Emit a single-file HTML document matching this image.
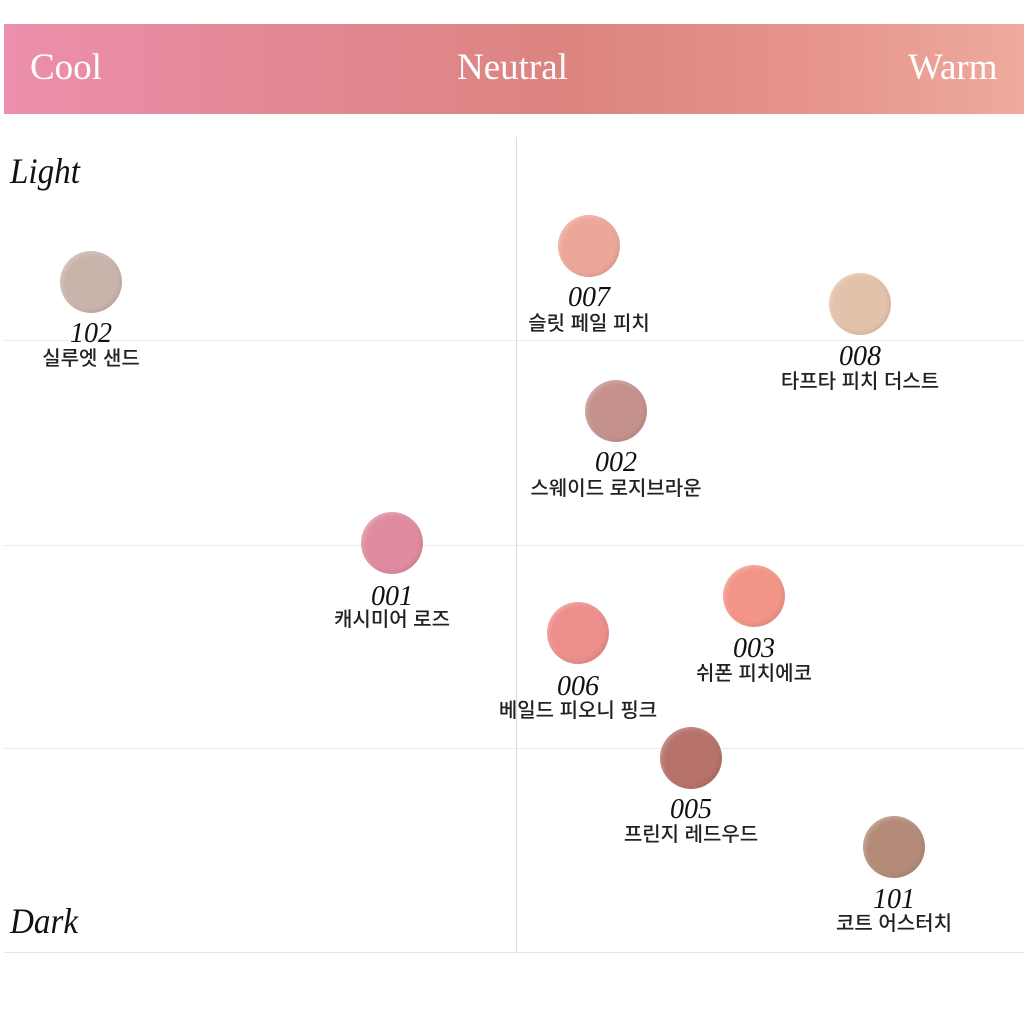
<!DOCTYPE html>
<html><head><meta charset="utf-8"><style>
body{margin:0;width:1024px;height:1024px;background:#fff;position:relative;overflow:hidden;font-family:"Liberation Serif",serif}
.band{position:absolute;left:4px;top:24px;width:1020px;height:90px;background:linear-gradient(90deg,#ec8fac 0%,#e0878e 35%,#dc8480 55%,#e6958c 80%,#eeaa9e 100%)}
.band span{position:absolute;top:24px;color:#fff;font-size:37px;line-height:40px}
.hl{position:absolute;left:4px;width:1020px;height:1px;background:#ececec}
.vl{position:absolute;left:516px;top:137px;width:1px;height:815px;background:#dcdcdc}
.ax{position:absolute;font-style:italic;font-size:36px;color:#111;left:10px;transform:scaleX(0.92);transform-origin:left}
.c{position:absolute;width:62px;height:62px;border-radius:50%;margin:-31px 0 0 -31px;box-shadow:inset 2px 2px 4px rgba(255,255,255,.25),inset -2px -2px 4px rgba(0,0,0,.08)}
.n{position:absolute;font-style:italic;font-size:28px;color:#111;width:200px;margin-left:-100px;text-align:center;line-height:1}
.k{position:absolute;font-family:"Liberation Sans","Noto Sans CJK KR",sans-serif;font-size:20px;font-weight:500;color:#222;width:260px;margin-left:-130px;text-align:center;line-height:1}
</style></head><body>
<div class="band"><span style="left:26px">Cool</span><span style="left:453px">Neutral</span><span style="left:904px">Warm</span></div>
<div class="hl" style="top:340px"></div><div class="hl" style="top:545px"></div><div class="hl" style="top:748px"></div><div class="hl" style="top:952px;background:#e4e4e4"></div>
<div class="vl"></div>
<div class="ax" style="top:150px">Light</div>
<div class="ax" style="top:900px">Dark</div>

<div class="c" style="left:91px;top:282px;background:#c9b4ac"></div><div class="n" style="left:91px;top:320px">102</div><div class="k" style="left:91px;top:349px">실루엣 샌드</div>
<div class="c" style="left:589px;top:246px;background:#eca799"></div><div class="n" style="left:589px;top:284px">007</div><div class="k" style="left:589px;top:314px">슬릿 페일 피치</div>
<div class="c" style="left:860px;top:304px;background:#e2c2aa"></div><div class="n" style="left:860px;top:343px">008</div><div class="k" style="left:860px;top:372px">타프타 피치 더스트</div>
<div class="c" style="left:616px;top:411px;background:#c5918c"></div><div class="n" style="left:616px;top:449px">002</div><div class="k" style="left:616px;top:479px">스웨이드 로지브라운</div>
<div class="c" style="left:392px;top:543px;background:#e08ba0"></div><div class="n" style="left:392px;top:583px">001</div><div class="k" style="left:392px;top:610px">캐시미어 로즈</div>
<div class="c" style="left:754px;top:596px;background:#f29487"></div><div class="n" style="left:754px;top:635px">003</div><div class="k" style="left:754px;top:664px">쉬폰 피치에코</div>
<div class="c" style="left:578px;top:633px;background:#ec8e8b"></div><div class="n" style="left:578px;top:673px">006</div><div class="k" style="left:578px;top:701px">베일드 피오니 핑크</div>
<div class="c" style="left:691px;top:758px;background:#b6726b"></div><div class="n" style="left:691px;top:796px">005</div><div class="k" style="left:691px;top:825px">프린지 레드우드</div>
<div class="c" style="left:894px;top:847px;background:#b48b78"></div><div class="n" style="left:894px;top:886px">101</div><div class="k" style="left:894px;top:914px">코트 어스터치</div>
</body></html>
